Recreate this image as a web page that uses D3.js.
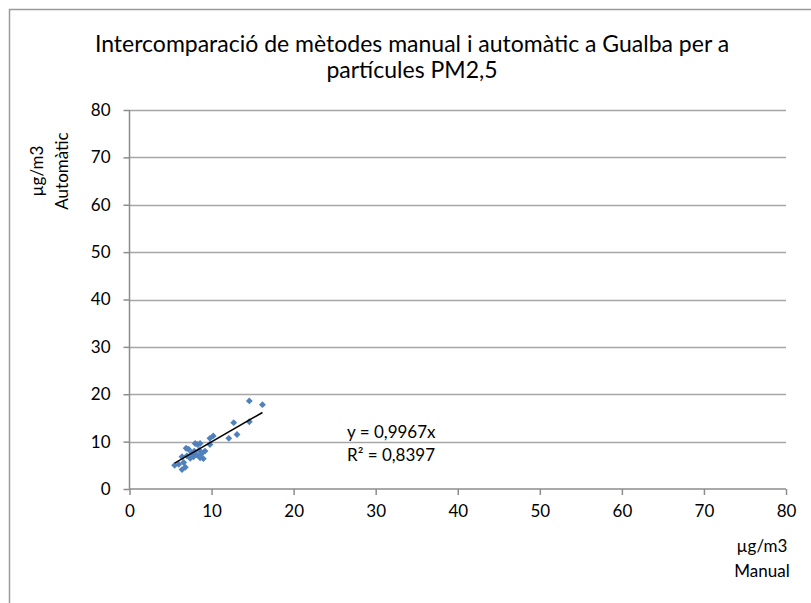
<!DOCTYPE html>
<html>
<head>
<meta charset="utf-8">
<script src="https://cdn.jsdelivr.net/npm/d3@7"></script>
<style>
  body { margin: 0; background: #fff; }
  text { font-family: Lato, "Liberation Sans", sans-serif; fill: #000; }
</style>
</head>
<body>
<div id="chart"></div>
<script>
// manual vs automatic PM2.5 (µg/m3)
var manual    = [5.5, 6.0, 6.4, 6.8, 6.6, 6.4, 7.0, 7.2, 7.6, 7.8, 8.0, 8.3, 8.6, 8.2, 8.5, 8.8, 9.0, 8.6, 7.4, 9.2, 9.8, 9.8, 10.2, 12.1, 12.7, 13.1, 14.6, 14.6, 16.2, 6.9, 7.9];
var automatic = [5.0, 5.2, 4.1, 4.6, 5.6, 6.8, 7.0, 8.4, 7.6, 6.8, 9.6, 9.4, 9.6, 7.2, 8.2, 7.5, 6.4, 6.6, 6.5, 8.0, 9.4, 10.7, 11.2, 10.7, 14.0, 11.5, 14.2, 18.6, 17.8, 8.6, 8.0];
var slope = 0.9967;
var r2Label = 'R² = 0,8397';
var eqLabel = 'y = 0,9967x';
var xTicks = [0, 10, 20, 30, 40, 50, 60, 70, 80];
var yTicks = [0, 10, 20, 30, 40, 50, 60, 70, 80];
var titleLines = ['Intercomparació de mètodes manual i automàtic a Gualba per a', 'partícules PM2,5'];

var W = 811, H = 603;
var svg = d3.select('#chart').append('svg')
  .attr('width', W).attr('height', H);

// outer chart frame
svg.append('rect')
  .attr('x', 9.5).attr('y', 9.5)
  .attr('width', W + 20).attr('height', H + 20)
  .attr('fill', 'none').attr('stroke', '#9a9a9a').attr('stroke-width', 1.5);

var x = d3.scaleLinear().domain([0, 80]).range([129.5, 786]);
var y = d3.scaleLinear().domain([0, 80]).range([489, 110]);

// gridlines
svg.append('g').selectAll('line')
  .data(yTicks.slice(1))
  .enter().append('line')
  .attr('x1', x(0)).attr('x2', x(80))
  .attr('y1', function(d) { return Math.round(y(d)) + 0.5; })
  .attr('y2', function(d) { return Math.round(y(d)) + 0.5; })
  .attr('stroke', '#a6a6a6').attr('stroke-width', 1.5);

var yAxis = d3.axisLeft(y).tickValues(yTicks).tickSize(6).tickPadding(13)
  .tickFormat(function(d) { return d; });
var xAxis = d3.axisBottom(x).tickValues(xTicks).tickSize(6).tickPadding(10)
  .tickFormat(function(d) { return d; });

var gy = svg.append('g').attr('transform', 'translate(' + x(0) + ',0)').call(yAxis);
var gx = svg.append('g').attr('transform', 'translate(0,' + y(0) + ')').call(xAxis);

[gx, gy].forEach(function(g) {
  g.selectAll('path, line').attr('stroke', '#8c8c8c').attr('stroke-width', 1.5);
  g.selectAll('text').attr('font-size', 17).attr('font-family', 'Lato, sans-serif').attr('fill', '#000');
});
gx.select('.domain').attr('d', 'M' + x(0) + ',0H' + x(80));
gy.select('.domain').attr('d', 'M0,' + y(0) + 'V' + y(80));

// points
svg.append('g').selectAll('path')
  .data(manual)
  .enter().append('path')
  .attr('d', d3.symbol().type(d3.symbolDiamond2).size(30))
  .attr('transform', function(d, i) { return 'translate(' + x(d) + ',' + y(automatic[i]) + ')'; })
  .attr('fill', '#4f81bd');

// linear trendline through origin
var xmin = d3.min(manual), xmax = d3.max(manual);
svg.append('line')
  .attr('x1', x(xmin)).attr('y1', y(slope * xmin))
  .attr('x2', x(xmax)).attr('y2', y(slope * xmax))
  .attr('stroke', '#000').attr('stroke-width', 1.5);

svg.append('text').attr('x', 347).attr('y', 438).attr('font-size', 17).text(eqLabel);
svg.append('text').attr('x', 347).attr('y', 461).attr('font-size', 17).text(r2Label);

// title
svg.selectAll('.title')
  .data(titleLines)
  .enter().append('text')
  .attr('class', 'title')
  .attr('x', 412)
  .attr('y', function(d, i) { return 52 + i * 26; })
  .attr('text-anchor', 'middle')
  .attr('font-size', 23)
  .text(function(d) { return d; });

// axis titles
svg.append('text').attr('x', 762).attr('y', 552).attr('text-anchor', 'middle').attr('font-size', 17).text('µg/m3');
svg.append('text').attr('x', 762).attr('y', 577).attr('text-anchor', 'middle').attr('font-size', 17).text('Manual');

svg.append('text').attr('transform', 'translate(43,171) rotate(-90)').attr('text-anchor', 'middle').attr('font-size', 17).text('µg/m3');
svg.append('text').attr('transform', 'translate(68,171) rotate(-90)').attr('text-anchor', 'middle').attr('font-size', 17).text('Automàtic');
</script>
</body>
</html>
